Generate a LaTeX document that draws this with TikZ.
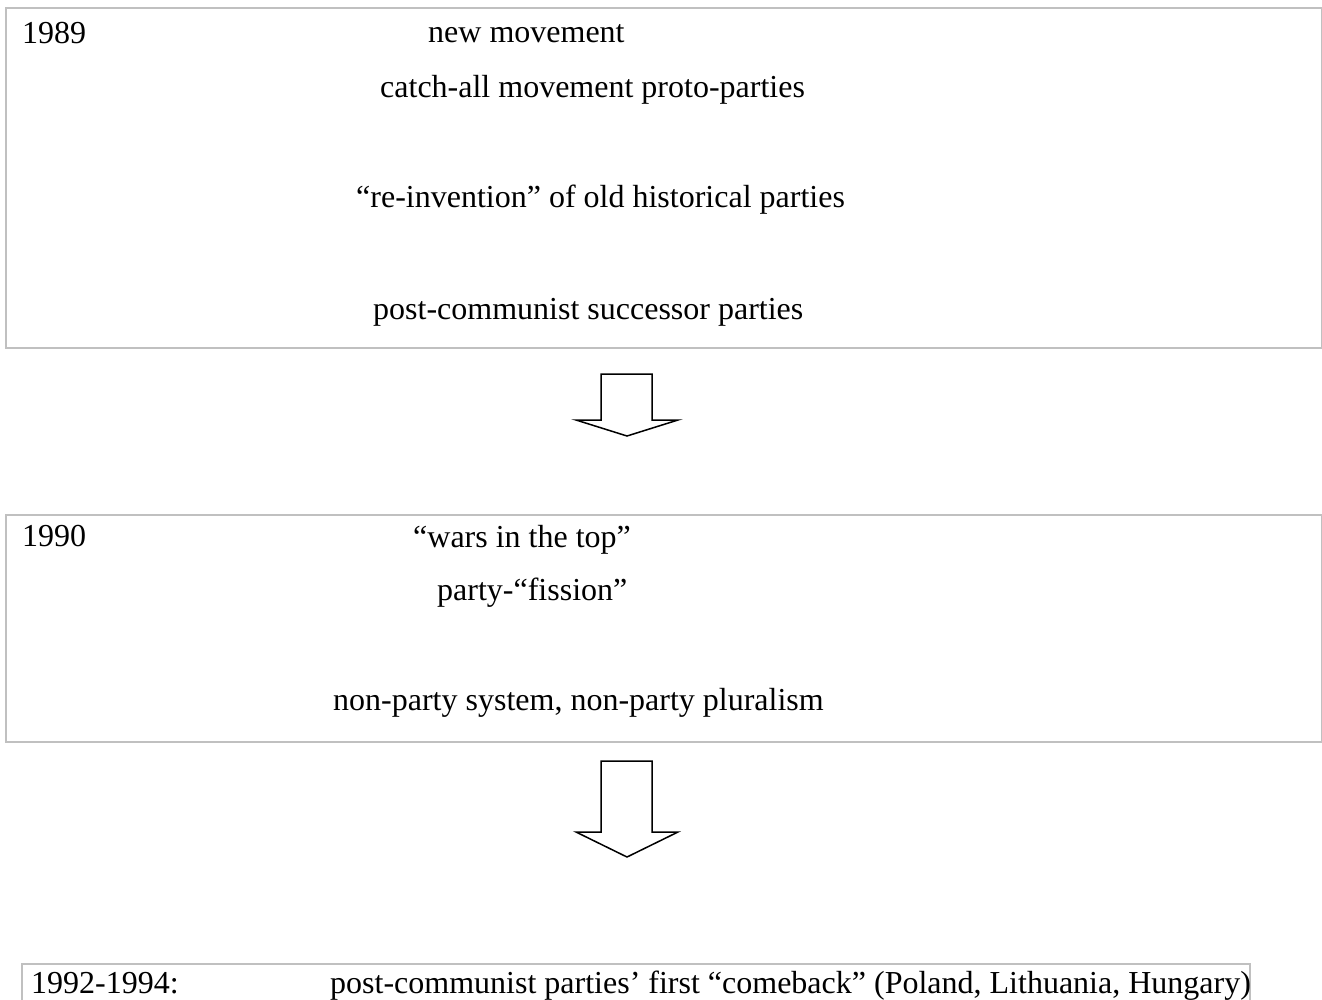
\documentclass[tikz,border=0pt]{standalone}
\usepackage{fontspec}
\setmainfont{Liberation Serif}
\begin{document}
\begin{tikzpicture}[x=1pt,y=-1pt,
  frame/.style={draw={rgb,255:red,192;green,192;blue,192},line width=2pt,rectangle,inner sep=0pt,anchor=north west},
  lbl/.style={anchor=base west,inner sep=0pt,font=\fontsize{32}{38}\selectfont},
  blockarrow/.style={draw=black,line width=1.5pt,fill=white,line join=miter}]
\useasboundingbox (0,0) rectangle (1322,999);
% boxes
\node[frame,minimum width=1316pt,minimum height=340pt] (b1) at (5,7) {};
\node[frame,minimum width=1316pt,minimum height=227pt] (b2) at (5,514) {};
\node[frame,minimum width=1228pt,minimum height=60pt] (b3) at (21,963) {};
% texts box 1
\node[lbl] (y1) at (22,43) {1989};
\node[lbl] (t11) at (428,42) {new movement};
\node[lbl] (t12) at (380,97) {catch-all movement proto-parties};
\node[lbl] (t13) at (356,207) {“re-invention” of old historical parties};
\node[lbl] (t14) at (373,319) {post-communist successor parties};
% texts box 2
\node[lbl] (y2) at (22,546) {1990};
\node[lbl] (t21) at (413,547) {“wars in the top”};
\node[lbl] (t22) at (437,600) {party-“fission”};
\node[lbl] (t23) at (333,710) {non-party system, non-party pluralism};
% texts box 3
\node[lbl] (y3) at (31,993) {1992-1994:};
\node[lbl] (t31) at (330,993) {post-communist parties’ first “comeback” (Poland, Lithuania, Hungary)};
% block arrows
\coordinate (a1) at (627,374);
\draw[blockarrow] (601,374) -- (652,374) -- (652,420) -- (678,420) -- (627,436) -- (576,420) -- (601,420) -- cycle;
\coordinate (a2) at (627,761);
\draw[blockarrow] (601,761) -- (652,761) -- (652,832) -- (678,832) -- (627,857) -- (576,832) -- (601,832) -- cycle;
\end{tikzpicture}
\end{document}
